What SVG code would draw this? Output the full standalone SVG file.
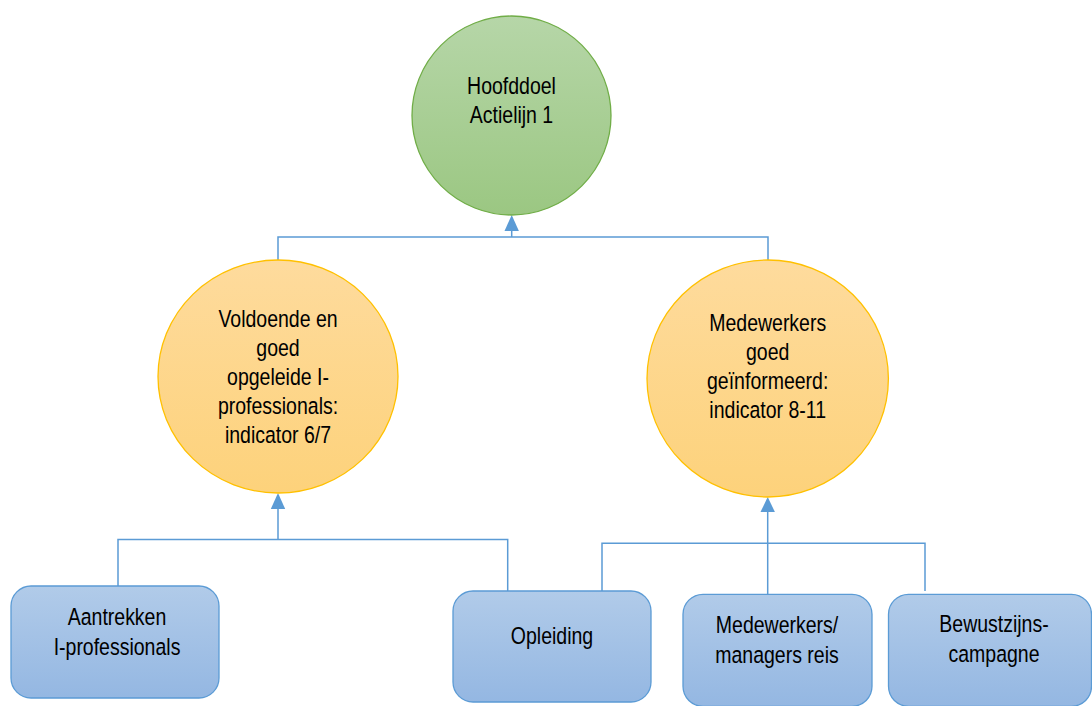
<svg xmlns="http://www.w3.org/2000/svg" width="1092" height="706" viewBox="0 0 1092 706">
<style>
.t{font-family:"Liberation Sans",Arial,sans-serif;font-size:23.5px;fill:#000;text-anchor:middle}
.c{fill:none;stroke:#5b9bd5;stroke-width:1.5}
.box{fill:url(#gB);stroke:#5b9bd5;stroke-width:1.3}
.gr{fill:url(#gG);stroke:#70ad47;stroke-width:1.3}
.or{fill:url(#gO);stroke:#ffc000;stroke-width:1.3}
</style>
<defs>
<linearGradient id="gB" x1="0" y1="0" x2="0" y2="1"><stop offset="0" stop-color="#b1cbe9"/><stop offset="1" stop-color="#94b7e2"/></linearGradient>
<linearGradient id="gG" x1="0" y1="0" x2="0" y2="1"><stop offset="0" stop-color="#b6d6a8"/><stop offset="1" stop-color="#9bc782"/></linearGradient>
<linearGradient id="gO" x1="0" y1="0" x2="0" y2="1"><stop offset="0" stop-color="#fedb9d"/><stop offset="1" stop-color="#fdd27b"/></linearGradient>
</defs>
<rect width="1092" height="706" fill="#fff"/>
<g id="connectors">
<path class="c" d="M278,260 V237 H768 V260 M511.7,237 V230"/>
<polygon points="511.7,215 504.5,231 518.9,231" fill="#5b9bd5"/>
<path class="c" d="M278,508 V539.5 M118,586 V539.5 H507.7 V591"/>
<polygon points="278,493 270.8,509 285.2,509" fill="#5b9bd5"/>
<path class="c" d="M767.7,511 V594 M602,591 V543.3 H925 V591"/>
<polygon points="767.7,497 760.5,512 774.9,512" fill="#5b9bd5"/>
</g>
<g id="hoofddoel">
<ellipse class="gr" cx="511.5" cy="115.5" rx="99.5" ry="99.5"/>
<g transform="translate(511.5,0) scale(0.83,1)">
<text class="t" x="0" y="94">Hoofddoel</text>
<text class="t" x="0" y="123">Actielijn 1</text>
</g>
</g>
<g id="voldoende">
<ellipse class="or" cx="278" cy="376.5" rx="120" ry="116.5"/>
<g transform="translate(278,0) scale(0.83,1)">
<text class="t" x="0" y="327">Voldoende en</text>
<text class="t" x="0" y="356">goed</text>
<text class="t" x="0" y="385">opgeleide I-</text>
<text class="t" x="0" y="414">professionals:</text>
<text class="t" x="0" y="443">indicator 6/7</text>
</g>
</g>
<g id="medewerkers-goed">
<ellipse class="or" cx="767.7" cy="378.5" rx="120.7" ry="118.5"/>
<g transform="translate(767.7,0) scale(0.83,1)">
<text class="t" x="0" y="331">Medewerkers</text>
<text class="t" x="0" y="360">goed</text>
<text class="t" x="0" y="389">geïnformeerd:</text>
<text class="t" x="0" y="418">indicator 8-11</text>
</g>
</g>
<g id="aantrekken">
<rect class="box" x="11" y="586" width="208" height="112" rx="20"/>
<g transform="translate(117,0) scale(0.83,1)">
<text class="t" x="0" y="625">Aantrekken</text>
<text class="t" x="0" y="655">I-professionals</text>
</g>
</g>
<g id="opleiding">
<rect class="box" x="453" y="591" width="198" height="111" rx="20"/>
<g transform="translate(552,0) scale(0.83,1)">
<text class="t" x="0" y="644">Opleiding</text>
</g>
</g>
<g id="reis">
<rect class="box" x="683" y="594.3" width="189" height="112" rx="20"/>
<g transform="translate(777,0) scale(0.83,1)">
<text class="t" x="0" y="633">Medewerkers/</text>
<text class="t" x="0" y="663">managers reis</text>
</g>
</g>
<g id="bewustzijn">
<rect class="box" x="888.5" y="594.3" width="203" height="112" rx="20"/>
<g transform="translate(994,0) scale(0.83,1)">
<text class="t" x="0" y="632">Bewustzijns-</text>
<text class="t" x="0" y="662">campagne</text>
</g>
</g>
</svg>
